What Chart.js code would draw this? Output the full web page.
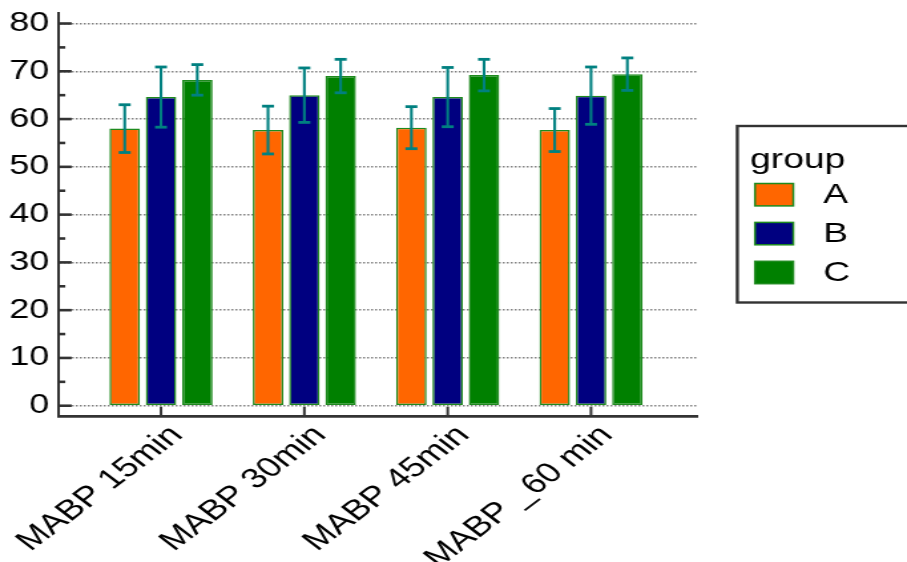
<!DOCTYPE html>
<html>
<head>
<meta charset="utf-8">
<script src="https://cdn.jsdelivr.net/npm/chart.js@4.4.1/dist/chart.umd.min.js"></script>
<style>
  html, body { margin:0; padding:0; background:#fff; }
  #c { display:block; }
</style>
</head>
<body>
<!-- the source picture is stretched sideways, so the canvas is drawn narrow and widened by its inline style -->
<canvas id="c" width="682" height="562" style="width:907px;height:562px"></canvas>
<script>
// ---- data ----
const categories = ["MABP 15min", "MABP 30min", "MABP 45min", "MABP _60 min"];
const groups = ["A", "B", "C"];
const meanA = [58.0, 57.7, 58.2, 57.7];
const meanB = [64.6, 65.0, 64.6, 64.9];
const meanC = [68.2, 69.0, 69.2, 69.4];
const sdA = [5.0, 5.0, 4.4, 4.5];
const sdB = [6.3, 5.7, 6.2, 6.0];
const sdC = [3.2, 3.5, 3.3, 3.4];
const yTicks = [0, 10, 20, 30, 40, 50, 60, 70, 80];
const yMinorTicks = [5, 15, 25, 35, 45, 55, 65, 75];

const FONT = '"Liberation Sans", Arial, sans-serif';
const fills = ["#ff6600", "#000080", "#008000"];
const means = [meanA, meanB, meanC];
const sds = [sdA, sdB, sdC];

// error bars, drawn over the bars
const errorBars = {
  id: "errorBars",
  afterDatasetsDraw(chart){
    const ctx = chart.ctx, y = chart.scales.y;
    ctx.save();
    ctx.strokeStyle = "#008080";
    chart.data.datasets.forEach((ds, i) => {
      chart.getDatasetMeta(i).data.forEach((bar, j) => {
        const m = means[i][j], sd = sds[i][j];
        const top = y.getPixelForValue(m + sd), bot = y.getPixelForValue(m - sd);
        ctx.lineWidth = 2.1;
        ctx.beginPath(); ctx.moveTo(bar.x, top); ctx.lineTo(bar.x, bot); ctx.stroke();
        ctx.lineWidth = 2.8;
        [top, bot].forEach(py => {
          ctx.beginPath(); ctx.moveTo(bar.x - 4.5, py); ctx.lineTo(bar.x + 4.5, py); ctx.stroke();
        });
      });
    });
    ctx.restore();
  }
};

// inward tick marks on both axes
const innerTicks = {
  id: "innerTicks",
  afterDraw(chart){
    const ctx = chart.ctx, {x, y} = chart.scales, a = chart.chartArea;
    ctx.save();
    ctx.strokeStyle = "#333";
    ctx.lineWidth = 2.6;
    yTicks.concat(yMinorTicks).forEach(v => {
      const py = y.getPixelForValue(v);
      const len = yTicks.includes(v) ? 9.8 : 5;
      ctx.beginPath(); ctx.moveTo(a.left, py); ctx.lineTo(a.left + len, py); ctx.stroke();
    });
    ctx.lineWidth = 2;
    categories.forEach((c, i) => {
      const px = x.getPixelForValue(i);
      ctx.beginPath(); ctx.moveTo(px, a.bottom); ctx.lineTo(px, a.bottom - 9.3); ctx.stroke();
    });
    ctx.restore();
  }
};

// boxed legend with a title, placed like the original
const boxLegend = {
  id: "boxLegend",
  afterDraw(chart){
    const ctx = chart.ctx;
    ctx.save();
    ctx.strokeStyle = "#333";
    ctx.lineWidth = 2.4;
    ctx.strokeRect(554.4, 126, 140, 176.5);
    ctx.fillStyle = "#000";
    ctx.font = "28px " + FONT;
    ctx.textBaseline = "alphabetic";
    ctx.fillText("group", 564, 168);
    ctx.textBaseline = "middle";
    chart.data.datasets.forEach((ds, i) => {
      const cy = 194.7 + i * 38.9;
      ctx.fillStyle = ds.backgroundColor;
      ctx.fillRect(567.7, cy - 11.2, 28.8, 22.4);
      ctx.lineWidth = 1.5;
      ctx.strokeStyle = ds.borderColor;
      ctx.strokeRect(567.7, cy - 11.2, 28.8, 22.4);
      ctx.fillStyle = "#000";
      ctx.fillText(ds.label, 619, cy + 1);
    });
    ctx.restore();
  }
};

new Chart(document.getElementById("c"), {
  type: "bar",
  data: {
    datasets: groups.map((g, i) => ({
      label: g,
      data: means[i].map((v, j) => ({ x: j, y: v })),
      backgroundColor: fills[i],
      borderColor: "#1e8a1e",
      borderWidth: 1.5,
      borderSkipped: false,
      categoryPercentage: 0.76,
      barPercentage: 0.84
    }))
  },
  options: {
    responsive: false,
    animation: false,
    devicePixelRatio: 1,
    layout: { padding: { top: 13, right: 157.4, left: 0, bottom: 0 } },
    plugins: { legend: { display: false }, tooltip: { enabled: false } },
    scales: {
      x: {
        type: "linear", min: -0.714, max: 3.744, offset: false,
        afterBuildTicks: s => { s.ticks = categories.map((c, i) => ({ value: i })); },
        afterFit: s => { s.height = 146; s.paddingLeft = 0; s.paddingRight = 0; },
        ticks: {
          autoSkip: false, minRotation: 45, maxRotation: 45, padding: 3, labelOffset: 12,
          color: "#000", font: { family: FONT, size: 28 },
          callback: v => categories[v]
        },
        grid: { display: false, drawTicks: false },
        border: { color: "#333", width: 2.7 }
      },
      y: {
        min: -2.15, max: 82.2,
        afterBuildTicks: s => { s.ticks = yTicks.map(v => ({ value: v })); },
        afterFit: s => { s.width = 44.1; s.paddingTop = 0; s.paddingBottom = 0; },
        ticks: { padding: 7, color: "#000", font: { family: FONT, size: 27 } },
        grid: { color: "#808080", lineWidth: 1.4, drawTicks: false },
        border: { color: "#333", width: 2, dash: [1.5, 1.5] }
      }
    }
  },
  plugins: [errorBars, innerTicks, boxLegend]
});
</script>
</body>
</html>
